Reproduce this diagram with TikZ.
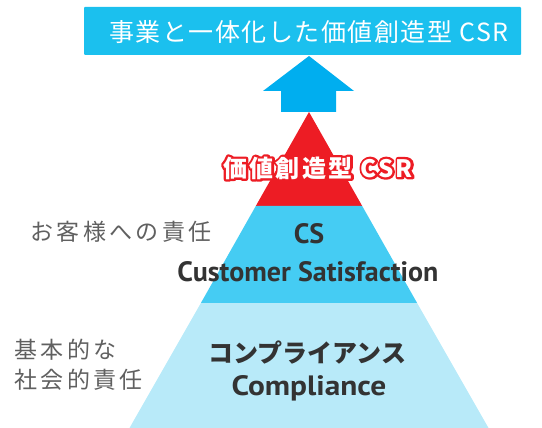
\documentclass[tikz,border=0pt]{standalone}
\usepackage{fontspec}
\setmainfont{PT Sans}
\newfontfamily\jp{Noto Sans CJK JP}
\newfontfamily\jpsp[LetterSpace=15]{Noto Sans CJK JP}
\newfontfamily\jptop[LetterSpace=6]{Noto Sans CJK JP}
\newfontfamily\jpred[LetterSpace=10]{Noto Sans CJK JP}
\newfontfamily\latwide[FakeStretch=1.12]{PT Sans}
\definecolor{topblue}{HTML}{1BC0EE}
\definecolor{arrowblue}{HTML}{00AEEF}
\definecolor{csrred}{HTML}{ED1C24}
\definecolor{csblue}{HTML}{45CCF3}
\definecolor{compblue}{HTML}{B8EAF9}
\definecolor{darktext}{HTML}{333333}
\definecolor{graytext}{HTML}{606060}
\newcommand{\strokeon}{\special{pdf:literal direct 2 Tr 4.6 w 1 J 1 j}}
\newcommand{\strokeoff}{\special{pdf:literal direct 0 Tr 1 w}}
\tikzset{
  lbl/.style={inner sep=0pt, text=darktext},
  redlbl/.style={inner sep=0pt, font=\jpred\bfseries\fontsize{24}{26}\selectfont},
  side/.style={inner sep=0pt, text=graytext, anchor=west, align=left,
    font=\jpsp\fontsize{23}{30}\selectfont},
}
\begin{document}
\begin{tikzpicture}[x=1pt,y=-1pt]
\useasboundingbox (0,0) rectangle (542,428);
% goal box
\fill[topblue, rounded corners=1pt] (84,7) rectangle (521,55);
\node[inner sep=0pt, text=white, font=\jptop\fontsize{25}{28}\selectfont] (goal) at (309,32) {事業と一体化した価値創造型 CSR};
% arrow
\fill[arrowblue] (309,56) -- (354,91) -- (336,91) -- (336,112) -- (281,112) -- (281,91) -- (263,91) -- cycle;
% pyramid
\fill[csrred] (309,112) -- (362.2,206) -- (255.8,206) -- cycle;
\fill[csblue] (255.8,206) -- (362.2,206) -- (417.1,303) -- (200.9,303) -- cycle;
\fill[compblue] (200.9,303) -- (417.1,303) -- (488.5,428) -- (129.5,428) -- cycle;
% labels
\node[redlbl, text=csrred] (csrhalo) at (318,168) {\strokeon 価値創造型 CSR\strokeoff};
\node[redlbl, text=white] (csr) at (318,168) {価値創造型 CSR};
\node[lbl, font=\bfseries\fontsize{28}{30}\selectfont] (cs) at (309,234) {CS};
\node[lbl, font=\bfseries\fontsize{28}{30}\selectfont] (csfull) at (308,272) {Customer Satisfaction};
\node[lbl, font=\jp\bfseries\fontsize{25}{28}\selectfont] (compjp) at (307.5,353) {コンプライアンス};
\node[lbl, font=\latwide\bfseries\fontsize{28}{30}\selectfont] (comp) at (309,388) {Compliance};
\node[side] (cust) at (30,232) {お客様への責任};
\node[side] (basic) at (14,365) {基本的な\\社会的責任};
\end{tikzpicture}
\end{document}
